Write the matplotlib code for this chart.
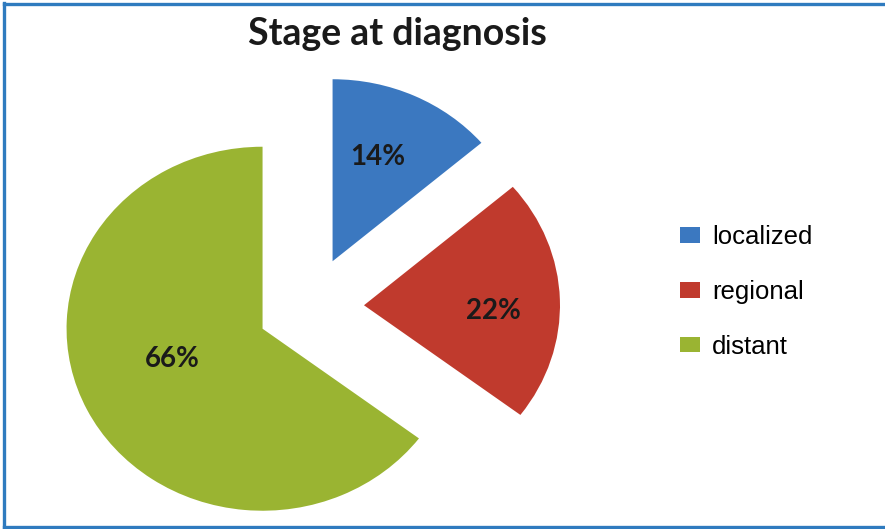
import numpy as np
import matplotlib
matplotlib.use("Agg")
import matplotlib.pyplot as plt
from matplotlib.lines import Line2D
from matplotlib.patches import Patch

# stage at diagnosis, percent of patients
stages = ["localized", "regional", "distant"]
shares = [14, 22, 66]
share_labels = ["14%", "22%", "66%"]
colors = ["#3b78c0", "#c03a2d", "#9ab432"]

W, H = 885, 529
k = 196 / 182  # the pie is a little wider than tall
fig = plt.figure(figsize=(W / 100, H / 100), dpi=100)
ax = fig.add_axes([0, 0, 1, 1])

wedges, _ = ax.pie(shares, colors=colors, startangle=90, counterclock=False,
                   radius=196, center=(310, 239.3),
                   explode=[54, 54, 53], wedgeprops=dict(linewidth=0))
ax.set_xlim(0, W)
ax.set_ylim(0, H * k)
ax.set_aspect("auto")
ax.axis("off")

# percent labels near each wedge's bisector
label_dist = [0.62, 0.66, 0.49]
label_turn = [2.8, -4.7, -6.3]
for w, txt, d, t in zip(wedges, share_labels, label_dist, label_turn):
    mid = np.deg2rad((w.theta1 + w.theta2) / 2 + t)
    cx, cy = w.center
    ax.text(cx + d * w.r * np.cos(mid), cy + d * w.r * np.sin(mid), txt,
            ha="center", va="center", fontsize=20, fontweight="bold",
            family="Lato", color="#1a1a1a")

fig.text(397 / W, 1 - 34 / H, "Stage at diagnosis", ha="center", va="center",
         fontsize=27, fontweight="bold", family="Lato", color="#1a1a1a")

handles = [Patch(facecolor=c, linewidth=0) for c in colors]
fig.legend(handles, stages, loc="center left", bbox_to_anchor=(0.768, 0.448),
           frameon=False, prop={"family": "Liberation Sans", "size": 18.5},
           labelspacing=1.2, handletextpad=0.47, handlelength=0.78,
           handleheight=0.545, borderaxespad=0, borderpad=0)

# blue frame around the figure
border = "#2f7bbf"
for xs, ys in [([4, 4], [2, H - 3]), ([4, W], [H - 4, H - 4]), ([4, W], [2, 2])]:
    fig.add_artist(Line2D(xs, ys, transform=None, color=border, linewidth=2.4))

fig.savefig("out.png", dpi=100)
